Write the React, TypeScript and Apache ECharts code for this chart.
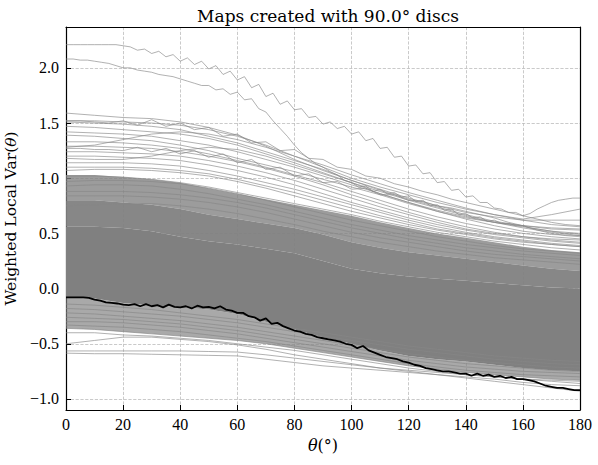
import React, { useEffect, useRef } from "react";
import * as echarts from "echarts";

// θ sampling (degrees) for the smooth gray lines and band envelopes
const THETA = [0, 10, 20, 30, 40, 50, 60, 70, 80, 90, 100, 110, 120, 130, 140, 150, 160, 170, 180];
const X_TICKS = [0, 20, 40, 60, 80, 100, 120, 140, 160, 180];

// envelopes of the dense bundle of gray curves
const TEX_LOW = [-0.36, -0.37, -0.39, -0.41, -0.43, -0.45, -0.47, -0.5, -0.54, -0.58, -0.62, -0.66, -0.7, -0.73, -0.76, -0.78, -0.8, -0.82, -0.83];
const SOLID_LOW = [-0.08, -0.09, -0.13, -0.15, -0.17, -0.19, -0.23, -0.3, -0.37, -0.44, -0.5, -0.56, -0.61, -0.64, -0.66, -0.69, -0.72, -0.74, -0.75];
const SOLID_HIGH = [0.56, 0.56, 0.55, 0.52, 0.47, 0.43, 0.4, 0.36, 0.32, 0.25, 0.18, 0.14, 0.11, 0.09, 0.07, 0.05, 0.03, 0.01, 0.0];
const MID_HIGH = [0.8, 0.8, 0.78, 0.76, 0.72, 0.67, 0.63, 0.59, 0.55, 0.49, 0.42, 0.37, 0.33, 0.3, 0.27, 0.24, 0.21, 0.18, 0.16];
const TEX_HIGH = [1.03, 1.03, 1.01, 0.99, 0.96, 0.91, 0.86, 0.81, 0.76, 0.71, 0.66, 0.6, 0.55, 0.5, 0.46, 0.42, 0.38, 0.35, 0.33];

// individual gray curves (values at THETA)
const U1 = [1.59, 1.57, 1.55, 1.54, 1.51, 1.46, 1.39, 1.29, 1.17, 1.07, 0.98, 0.9, 0.82, 0.75, 0.69, 0.65, 0.62, 0.62, 0.62];
const U2 = [1.52, 1.52, 1.51, 1.5, 1.48, 1.44, 1.38, 1.3, 1.2, 1.1, 1.0, 0.92, 0.85, 0.78, 0.72, 0.67, 0.63, 0.67, 0.72];
const U3 = [1.51, 1.5, 1.49, 1.47, 1.44, 1.38, 1.32, 1.24, 1.16, 1.08, 0.98, 0.89, 0.81, 0.74, 0.67, 0.61, 0.57, 0.54, 0.53];
const U4 = [1.47, 1.46, 1.44, 1.42, 1.4, 1.36, 1.3, 1.22, 1.14, 1.05, 0.96, 0.86, 0.78, 0.7, 0.64, 0.6, 0.57, 0.55, 0.54];
const U5 = [1.42, 1.41, 1.4, 1.38, 1.34, 1.3, 1.24, 1.17, 1.1, 1.02, 0.94, 0.86, 0.78, 0.71, 0.65, 0.6, 0.56, 0.52, 0.5];
const U6 = [1.39, 1.38, 1.36, 1.34, 1.3, 1.25, 1.18, 1.12, 1.06, 0.99, 0.92, 0.85, 0.77, 0.7, 0.63, 0.57, 0.52, 0.49, 0.48];
const U7 = [1.33, 1.33, 1.32, 1.3, 1.27, 1.22, 1.16, 1.1, 1.03, 0.96, 0.88, 0.8, 0.72, 0.65, 0.59, 0.54, 0.5, 0.47, 0.45];
const U8 = [1.29, 1.29, 1.28, 1.27, 1.24, 1.2, 1.15, 1.09, 1.02, 0.94, 0.85, 0.77, 0.69, 0.62, 0.56, 0.51, 0.47, 0.44, 0.42];
const U9 = [1.24, 1.24, 1.23, 1.22, 1.2, 1.16, 1.11, 1.05, 0.98, 0.9, 0.82, 0.74, 0.67, 0.6, 0.54, 0.5, 0.47, 0.45, 0.44];
const U10 = [1.2, 1.2, 1.19, 1.18, 1.16, 1.12, 1.07, 1.01, 0.94, 0.86, 0.78, 0.71, 0.64, 0.58, 0.53, 0.49, 0.46, 0.43, 0.41];
const U11 = [1.14, 1.14, 1.14, 1.13, 1.11, 1.07, 1.02, 0.96, 0.9, 0.83, 0.76, 0.69, 0.62, 0.56, 0.51, 0.47, 0.44, 0.41, 0.39];
const U12 = [1.1, 1.1, 1.1, 1.09, 1.07, 1.04, 0.99, 0.93, 0.87, 0.8, 0.73, 0.66, 0.6, 0.54, 0.5, 0.46, 0.43, 0.4, 0.38];
const U13 = [1.07, 1.08, 1.08, 1.07, 1.05, 1.02, 0.97, 0.91, 0.84, 0.77, 0.7, 0.64, 0.58, 0.53, 0.49, 0.45, 0.42, 0.4, 0.38];
const U14 = [1.28, 1.3, 1.35, 1.4, 1.42, 1.4, 1.35, 1.28, 1.2, 1.12, 1.03, 0.95, 0.87, 0.8, 0.73, 0.67, 0.62, 0.58, 0.56];
const U15 = [1.18, 1.17, 1.17, 1.2, 1.25, 1.28, 1.26, 1.2, 1.12, 1.04, 0.96, 0.88, 0.8, 0.73, 0.66, 0.6, 0.55, 0.51, 0.48];
const S1 = [1.02, 1.02, 1.01, 0.99, 0.96, 0.92, 0.87, 0.82, 0.77, 0.72, 0.67, 0.61, 0.56, 0.51, 0.47, 0.43, 0.4, 0.37, 0.35];
const S2 = [0.97, 0.98, 0.98, 0.97, 0.95, 0.91, 0.86, 0.8, 0.74, 0.68, 0.62, 0.57, 0.52, 0.47, 0.43, 0.39, 0.36, 0.34, 0.32];
const S3 = [0.93, 0.94, 0.94, 0.93, 0.9, 0.86, 0.81, 0.76, 0.7, 0.64, 0.58, 0.53, 0.48, 0.44, 0.4, 0.37, 0.34, 0.32, 0.3];
const S4 = [0.88, 0.88, 0.88, 0.87, 0.85, 0.82, 0.78, 0.73, 0.67, 0.61, 0.55, 0.5, 0.45, 0.41, 0.37, 0.34, 0.31, 0.29, 0.27];
const S5 = [0.84, 0.84, 0.84, 0.83, 0.81, 0.78, 0.74, 0.69, 0.63, 0.57, 0.51, 0.46, 0.42, 0.38, 0.34, 0.31, 0.29, 0.27, 0.25];
const S6 = [0.75, 0.76, 0.77, 0.77, 0.75, 0.72, 0.68, 0.63, 0.58, 0.52, 0.47, 0.42, 0.38, 0.34, 0.31, 0.28, 0.26, 0.24, 0.22];
const L1 = [-0.5, -0.47, -0.44, -0.44, -0.46, -0.48, -0.51, -0.55, -0.6, -0.64, -0.68, -0.72, -0.75, -0.78, -0.81, -0.84, -0.87, -0.9, -0.93];
const L2 = [-0.565, -0.565, -0.565, -0.565, -0.565, -0.57, -0.575, -0.6, -0.63, -0.66, -0.69, -0.72, -0.74, -0.76, -0.78, -0.8, -0.82, -0.83, -0.84];
const L3 = [-0.585, -0.59, -0.59, -0.595, -0.6, -0.605, -0.61, -0.64, -0.67, -0.7, -0.72, -0.74, -0.76, -0.78, -0.8, -0.82, -0.85, -0.87, -0.88];
const L4 = [-0.4, -0.4, -0.42, -0.43, -0.45, -0.47, -0.5, -0.53, -0.56, -0.6, -0.64, -0.68, -0.72, -0.75, -0.78, -0.8, -0.82, -0.84, -0.86];
const L5 = [-0.36, -0.37, -0.39, -0.41, -0.43, -0.45, -0.47, -0.5, -0.54, -0.58, -0.62, -0.66, -0.7, -0.73, -0.76, -0.78, -0.8, -0.82, -0.83];
const L6 = [-0.33, -0.34, -0.35, -0.37, -0.39, -0.42, -0.45, -0.48, -0.52, -0.56, -0.6, -0.64, -0.68, -0.71, -0.74, -0.76, -0.78, -0.79, -0.8];
const L7 = [-0.3, -0.3, -0.31, -0.33, -0.35, -0.38, -0.41, -0.45, -0.49, -0.53, -0.57, -0.61, -0.65, -0.68, -0.71, -0.73, -0.75, -0.76, -0.77];
const L8 = [-0.26, -0.27, -0.28, -0.3, -0.32, -0.35, -0.38, -0.42, -0.46, -0.5, -0.54, -0.58, -0.62, -0.65, -0.68, -0.7, -0.72, -0.74, -0.75];
const L9 = [-0.22, -0.23, -0.25, -0.27, -0.29, -0.32, -0.35, -0.39, -0.43, -0.47, -0.51, -0.55, -0.59, -0.62, -0.65, -0.67, -0.69, -0.71, -0.72];
const L10 = [-0.18, -0.19, -0.21, -0.23, -0.25, -0.28, -0.31, -0.35, -0.39, -0.43, -0.47, -0.51, -0.55, -0.58, -0.61, -0.64, -0.66, -0.68, -0.69];
const L11 = [-0.14, -0.15, -0.17, -0.19, -0.22, -0.25, -0.28, -0.32, -0.36, -0.4, -0.44, -0.48, -0.52, -0.55, -0.58, -0.61, -0.63, -0.65, -0.66];
const GRAY_LINES = [U1, U2, U3, U4, U5, U6, U7, U8, U9, U10, U11, U12, U13, U14, U15, S1, S2, S3, S4, S5, S6, L1, L2, L3, L4, L5, L6, L7, L8, L9, L10, L11];

// jagged fringe curves, sampled every 5°
const JAG_STEP = 5;
const J1 = [1.52, 1.52, 1.51, 1.5, 1.52, 1.48, 1.53, 1.47, 1.5, 1.44, 1.46, 1.38, 1.4, 1.32, 1.33, 1.25, 1.26, 1.18, 1.17, 1.1, 1.08, 1.02, 1.0, 0.95, 0.92, 0.88, 0.85, 0.81, 0.78, 0.75, 0.72, 0.69, 0.66, 0.63, 0.6, 0.58, 0.57];
const J2 = [1.27, 1.27, 1.26, 1.26, 1.25, 1.28, 1.24, 1.27, 1.22, 1.25, 1.19, 1.22, 1.14, 1.17, 1.08, 1.1, 1.02, 1.04, 0.96, 0.97, 0.9, 0.91, 0.85, 0.85, 0.8, 0.79, 0.75, 0.73, 0.7, 0.67, 0.64, 0.6, 0.57, 0.53, 0.5, 0.48, 0.47];

// two jagged outlier curves, sampled every 2.5°
const OUT_STEP = 2.5;
const OUT_A = [2.21, 2.21, 2.21, 2.21, 2.21, 2.21, 2.21, 2.21, 2.2, 2.19, 2.16, 2.17, 2.13, 2.15, 2.1, 2.12, 2.06, 2.09, 2.03, 2.06, 1.99, 2.02, 1.94, 1.97, 1.89, 1.92, 1.82, 1.85, 1.74, 1.77, 1.67, 1.7, 1.62, 1.63, 1.55, 1.56, 1.49, 1.51, 1.45, 1.47, 1.4, 1.42, 1.34, 1.36, 1.27, 1.28, 1.19, 1.2, 1.11, 1.12, 1.04, 1.05, 0.96, 0.97, 0.89, 0.9, 0.83, 0.84, 0.78, 0.78, 0.73, 0.72, 0.69, 0.69, 0.66, 0.68, 0.72, 0.75, 0.78, 0.8, 0.81, 0.82, 0.82];
const OUT_B = [2.08, 2.08, 2.07, 2.07, 2.06, 2.05, 2.04, 2.02, 2.0, 2.0, 1.98, 1.97, 1.96, 1.94, 1.93, 1.92, 1.9, 1.88, 1.86, 1.84, 1.84, 1.8, 1.81, 1.76, 1.78, 1.71, 1.72, 1.63, 1.6, 1.52, 1.45, 1.38, 1.3, 1.23, 1.18, 1.13, 1.1, 1.06, 1.03, 0.98, 0.96, 0.92, 0.93, 0.88, 0.9, 0.86, 0.87, 0.83, 0.84, 0.79, 0.8, 0.75, 0.76, 0.71, 0.72, 0.67, 0.68, 0.64, 0.65, 0.61, 0.62, 0.59, 0.59, 0.57, 0.57, 0.55, 0.54, 0.53, 0.52, 0.51, 0.5, 0.5, 0.49];

// highlighted black curve, sampled every 2°
const BLACK_STEP = 2;
const BLACK = [-0.08, -0.08, -0.08, -0.08, -0.085, -0.1, -0.11, -0.125, -0.13, -0.135, -0.145, -0.15, -0.14, -0.16, -0.14, -0.16, -0.15, -0.17, -0.145, -0.165, -0.17, -0.16, -0.18, -0.155, -0.17, -0.165, -0.18, -0.16, -0.19, -0.2, -0.22, -0.22, -0.25, -0.26, -0.29, -0.27, -0.32, -0.31, -0.34, -0.36, -0.38, -0.39, -0.41, -0.42, -0.44, -0.45, -0.46, -0.47, -0.48, -0.5, -0.51, -0.54, -0.52, -0.56, -0.58, -0.6, -0.62, -0.63, -0.64, -0.66, -0.67, -0.69, -0.7, -0.72, -0.73, -0.74, -0.75, -0.75, -0.76, -0.77, -0.77, -0.79, -0.77, -0.79, -0.78, -0.8, -0.79, -0.81, -0.8, -0.82, -0.82, -0.83, -0.84, -0.86, -0.88, -0.89, -0.9, -0.9, -0.91, -0.92, -0.92];

const TITLE = "Maps created with 90.0° discs";
const Y_NAME = "Weighted Local Var({i|θ})";
const X_NAME = "{i|θ}(°)";

const SERIF = "'Liberation Serif', 'DejaVu Serif', serif";
const WIDE_SERIF = "'DejaVu Serif', 'Liberation Serif', serif";
const GRAY = "#808080";
const LINE_GRAY = "#878787";

// bands: [lower, upper, opacity]
const BANDS: [number[], number[], number][] = [
  [TEX_LOW, SOLID_LOW, 0.68],
  [SOLID_LOW, SOLID_HIGH, 1],
  [SOLID_HIGH, MID_HIGH, 0.94],
  [MID_HIGH, TEX_HIGH, 0.78],
];

export default function App() {
  const ref = useRef<HTMLDivElement>(null);
  useEffect(() => {
    document.body.style.margin = "0";
    const chart = echarts.init(ref.current!, null, { renderer: "svg" });
    const pairs = (xs: number[], ys: number[]) => xs.map((x, i) => [x, ys[i]]);
    const stepPairs = (step: number, ys: number[]) => ys.map((y, i) => [i * step, y]);

    const series: any[] = [
      {
        type: "custom",
        coordinateSystem: "cartesian2d",
        silent: true,
        z: 1,
        data: BANDS.map((_, k) => [THETA[0], BANDS[k][0][0], k]),
        encode: { x: 0, y: 1 },
        renderItem: (params: any, api: any) => {
          const k = api.value(2);
          const [lo, hi, op] = BANDS[k];
          const pts: number[][] = [];
          THETA.forEach((t, i) => pts.push(api.coord([t, hi[i]])));
          for (let i = THETA.length - 1; i >= 0; i--) pts.push(api.coord([THETA[i], lo[i]]));
          return {
            type: "polygon",
            shape: { points: pts },
            style: { fill: GRAY, opacity: op, stroke: null },
          };
        },
      },
    ];
    const grayLine = (data: number[][]) => ({
      type: "line",
      data,
      symbol: "none",
      silent: true,
      lineStyle: { color: LINE_GRAY, width: 0.65 },
      z: 2,
    });
    GRAY_LINES.forEach((ys) => series.push(grayLine(pairs(THETA, ys))));
    [J1, J2].forEach((ys) => series.push(grayLine(stepPairs(JAG_STEP, ys))));
    [OUT_A, OUT_B].forEach((ys) => series.push(grayLine(stepPairs(OUT_STEP, ys))));
    series.push({
      type: "line",
      data: stepPairs(BLACK_STEP, BLACK),
      symbol: "none",
      silent: true,
      lineStyle: { color: "#000", width: 1.8 },
      z: 3,
    });

    const frame = { show: true, onZero: false, lineStyle: { color: "#000", width: 1.2 } };
    const labelStyle = { fontFamily: SERIF, fontSize: 16, color: "#000" };
    const nameStyle = (size: number) => ({
      fontFamily: WIDE_SERIF,
      fontSize: size,
      color: "#000",
      rich: { i: { fontFamily: WIDE_SERIF, fontSize: size, fontStyle: "italic", color: "#000" } },
    });
    const grid = { type: "dashed", color: "#bdbdbd", width: 0.8 };

    chart.setOption({
      animation: false,
      backgroundColor: "#fff",
      title: {
        text: TITLE,
        left: 323,
        top: 2,
        textAlign: "center",
        textStyle: { fontFamily: WIDE_SERIF, fontSize: 17, fontWeight: "normal", color: "#000" },
      },
      grid: { left: 66, right: 18, top: 27, bottom: 55, containLabel: false, outerBoundsMode: "none" },
      xAxis: [
        {
          type: "value",
          min: X_TICKS[0],
          max: X_TICKS[X_TICKS.length - 1],
          interval: X_TICKS[1] - X_TICKS[0],
          axisLine: frame,
          axisTick: { inside: true, length: 5, lineStyle: { color: "#000", width: 1 } },
          axisLabel: { ...labelStyle, margin: 6 },
          splitLine: { show: true, lineStyle: grid },
          name: X_NAME,
          nameLocation: "middle",
          nameGap: 27,
          nameTextStyle: nameStyle(16),
        },
        {
          type: "value",
          position: "top",
          min: 0,
          max: 180,
          axisLine: frame,
          axisTick: { show: false },
          axisLabel: { show: false },
          splitLine: { show: false },
        },
      ],
      yAxis: [
        {
          type: "value",
          min: -1.1,
          max: 2.37,
          splitNumber: 7,
          axisLine: frame,
          axisTick: { inside: true, length: 5, lineStyle: { color: "#000", width: 1 } },
          axisLabel: {
            ...labelStyle,
            margin: 7,
            showMinLabel: false,
            showMaxLabel: false,
            formatter: (v: number) => (Math.abs(v - Math.round(v * 2) / 2) > 1e-6 ? "" : v.toFixed(1).replace("-", "\u2212")),
          },
          splitLine: { show: true, lineStyle: grid },
          name: Y_NAME,
          nameLocation: "middle",
          nameGap: 47,
          nameTextStyle: nameStyle(15.5),
        },
        {
          type: "value",
          position: "right",
          min: -1.1,
          max: 2.37,
          axisLine: frame,
          axisTick: { show: false },
          axisLabel: { show: false },
          splitLine: { show: false },
        },
      ],
      series,
    });
    return () => chart.dispose();
  }, []);
  return <div ref={ref} style={{ width: 598, height: 465 }} />;
}
